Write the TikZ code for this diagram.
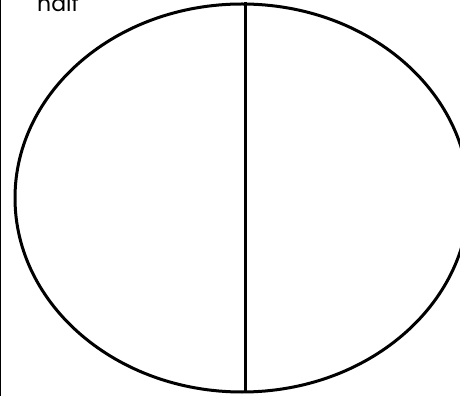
\documentclass[tikz,border=0pt]{standalone}
\usepackage{fontspec}
\setmainfont{Poppins}
\tikzset{shapeline/.style={line width=3pt, black}}
\begin{document}
\begin{tikzpicture}[x=1pt,y=1pt]
\useasboundingbox (0,0) rectangle (460,396);
\clip (0,0) rectangle (460,396);
\draw[line width=1.5pt] (0.5,0) -- (0.5,396);
\draw[shapeline] (242,198) ellipse [x radius=227, y radius=194];
\coordinate (top) at (245.5,394);
\coordinate (bot) at (245.5,4);
\draw[shapeline] (top) -- (bot);
\node[anchor=base west, inner sep=0, font=\fontsize{22}{26}\selectfont] (lbl) at (37,384) {half};
\end{tikzpicture}
\end{document}
